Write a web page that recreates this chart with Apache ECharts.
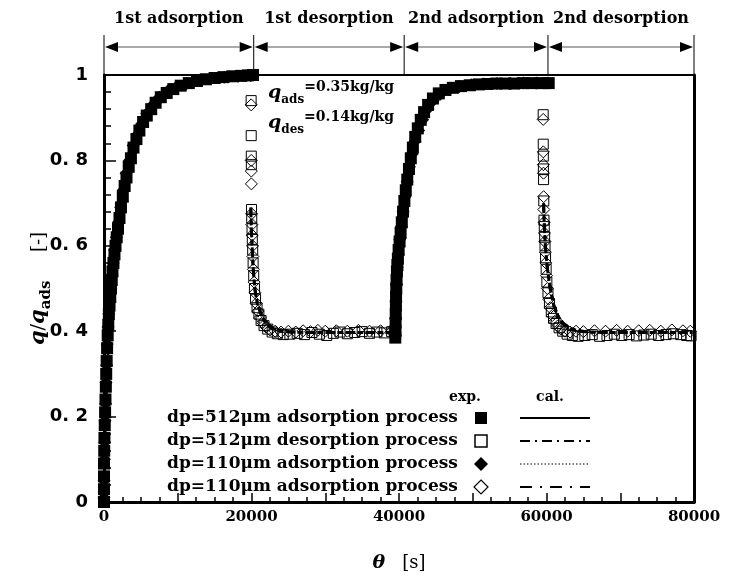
<!DOCTYPE html>
<html>
<head>
<meta charset="utf-8">
<script src="https://cdn.jsdelivr.net/npm/echarts@6/dist/echarts.min.js"></script>
<style>
  html, body { margin: 0; padding: 0; background: #fff; }
  #chart { width: 730px; height: 578px; }
</style>
</head>
<body>
<div id="chart"></div>
<script>
// Process phases along the time axis
const phaseNames = ['1st adsorption', '1st desorption', '2nd adsorption', '2nd desorption'];
const phaseBounds = [0, 20300, 40700, 60200, 80000];

// Axis ticks
const xTickLabels = [0, 20000, 40000, 60000, 80000];
const yTickLabels = [0, 0.2, 0.4, 0.6, 0.8, 1];

// Legend rows
const legendNames = [
  'dp=512\u03bcm adsorption process',
  'dp=512\u03bcm desorption process',
  'dp=110\u03bcm adsorption process',
  'dp=110\u03bcm adsorption process'
];

// Experimental data [time s, q/q_ads]
// dp=512 um, adsorption (filled squares)
const exp512Ads = [
  [0,0],[0,0.03],[0,0.06],[0,0.09],[30,0.12],[60,0.15],[100,0.18],[150,0.21],[200,0.24],[250,0.27],[300,0.3],
  [360,0.33],[420,0.36],[500,0.39],[580,0.415],[660,0.44],[750,0.46],[850,0.48],[950,0.5],[1050,0.52],[1150,0.54],
  [1280,0.56],[1420,0.58],[1560,0.6],[1720,0.62],[1900,0.64],[2100,0.665],[2300,0.69],[2550,0.715],[2800,0.74],[3050,0.76],
  [3350,0.785],[3650,0.805],[4000,0.83],[4400,0.85],[4800,0.87],[5300,0.89],[5800,0.905],[6400,0.92],[7000,0.935],[7700,0.948],
  [8500,0.958],[9400,0.967],[10400,0.975],[11500,0.981],[12600,0.986],[13800,0.99],[15000,0.993],[16200,0.995],[17400,0.997],
  [18600,0.998],[19500,0.999],[20200,1.0],
  [39500,0.385],[39520,0.4],[39540,0.42],[39560,0.44],[39580,0.46],[39600,0.48],[39630,0.5],[39670,0.52],[39720,0.54],
  [39780,0.555],[39850,0.57],[39950,0.59],[40080,0.61],[40220,0.63],[40380,0.655],[40550,0.68],[40730,0.705],[40920,0.73],
  [41120,0.755],[41350,0.78],[41600,0.805],[41880,0.83],[42200,0.855],[42550,0.875],[42950,0.895],[43400,0.913],[43950,0.93],
  [44600,0.945],[45400,0.957],[46300,0.965],[47300,0.97],[48400,0.974],[49600,0.976],[50800,0.978],[52000,0.979],[53200,0.98],
  [54400,0.98],[55600,0.98],[56800,0.981],[58000,0.981],[59200,0.981],[60300,0.981]
];
// dp=512 um, desorption (open squares)
const exp512Des = [
  [19950,0.94],[19960,0.858],[19970,0.81],[19980,0.79],[20000,0.685],[20030,0.665],[20070,0.64],[20110,0.615],[20160,0.59],
  [20220,0.56],[20300,0.53],[20400,0.5],[20550,0.475],[20750,0.455],[21000,0.44],[21300,0.425],[21700,0.413],[22200,0.405],
  [22800,0.398],[23500,0.394],[24300,0.392],[25200,0.393],[26200,0.395],[27200,0.392],[28200,0.397],[29200,0.393],[30200,0.39],
  [31100,0.395],[32000,0.398],[33000,0.394],[34000,0.397],[35000,0.399],[36000,0.395],[37000,0.398],[38000,0.396],[39000,0.399],
  [59550,0.907],[59560,0.838],[59570,0.81],[59580,0.78],[59600,0.755],[59630,0.705],[59660,0.66],[59700,0.645],[59750,0.62],
  [59800,0.6],[59870,0.572],[59950,0.545],[60050,0.515],[60200,0.49],[60400,0.465],[60650,0.445],[60950,0.43],[61300,0.418],
  [61700,0.408],[62200,0.4],[62800,0.393],[63500,0.39],[64300,0.388],[65200,0.39],[66200,0.392],[67200,0.388],[68200,0.39],
  [69200,0.393],[70200,0.39],[71200,0.392],[72200,0.389],[73200,0.391],[74200,0.393],[75200,0.39],[76200,0.392],[77200,0.394],
  [78200,0.392],[79000,0.39],[79600,0.389]
];
// dp=110 um, adsorption (filled diamonds)
const exp110Ads = [
  [0,0.01],[20,0.05],[50,0.1],[90,0.14],[140,0.19],[200,0.23],[270,0.28],[350,0.32],[440,0.37],[540,0.41],[650,0.44],
  [780,0.47],[920,0.5],[1080,0.53],[1250,0.56],[1450,0.59],[1680,0.62],[1950,0.655],[2250,0.69],[2600,0.73],[3000,0.77],
  [3450,0.8],[3950,0.835],[4500,0.86],[5100,0.885],[5800,0.91],[6600,0.93],[7500,0.948],[8600,0.962],[9800,0.972],
  [11200,0.98],[12800,0.987],[14500,0.992],[16300,0.995],[18200,0.997],[19900,0.999],
  [39510,0.39],[39550,0.43],[39590,0.47],[39650,0.51],[39750,0.55],[39900,0.58],[40100,0.615],[40320,0.645],[40560,0.68],
  [40820,0.715],[41100,0.75],[41420,0.785],[41780,0.815],[42180,0.845],[42650,0.87],[43200,0.895],[43850,0.92],[44650,0.94],
  [45600,0.955],[46800,0.966],[48200,0.973],[49800,0.977],[51500,0.979],[53300,0.98],[55100,0.98],[56900,0.981],[58700,0.981],
  [60200,0.981]
];
// dp=110 um, desorption (open diamonds)
const exp110Des = [
  [19955,0.93],[19965,0.8],[19975,0.775],[19985,0.745],[20010,0.675],[20050,0.65],[20090,0.625],[20140,0.6],[20190,0.575],
  [20260,0.545],[20350,0.515],[20480,0.49],[20650,0.465],[20870,0.447],[21150,0.432],[21500,0.42],[21950,0.41],[22500,0.403],
  [23200,0.4],[24000,0.398],[25000,0.4],[26000,0.398],[27000,0.401],[28000,0.399],[29000,0.402],[30000,0.4],[31500,0.401],
  [33000,0.4],[34500,0.402],[36000,0.4],[37500,0.401],[39000,0.4],
  [59555,0.896],[59565,0.82],[59575,0.79],[59590,0.77],[59610,0.715],[59640,0.685],[59680,0.655],[59720,0.63],[59780,0.61],
  [59840,0.585],[59910,0.56],[60000,0.53],[60120,0.5],[60300,0.475],[60520,0.455],[60800,0.437],[61120,0.423],[61500,0.412],
  [61950,0.405],[62500,0.4],[63200,0.398],[64000,0.4],[65000,0.399],[66500,0.401],[68000,0.4],[69500,0.402],[71000,0.4],
  [72500,0.401],[74000,0.402],[75500,0.4],[77000,0.403],[78500,0.401],[79500,0.4]
];

// Calculated curves [time s, q/q_ads], one array per phase
const cal512Ads1 = [
  [0,0],[100,0.1],[200,0.18],[300,0.24],[400,0.29],[550,0.35],[700,0.4],[900,0.46],[1100,0.51],[1350,0.56],[1650,0.61],
  [2000,0.66],[2400,0.705],[2900,0.75],[3500,0.795],[4200,0.835],[5000,0.87],[6000,0.9],[7200,0.928],[8600,0.95],
  [10200,0.966],[12000,0.978],[14000,0.986],[16000,0.992],[18000,0.996],[20000,0.999]
];
const cal512Ads2 = [
  [39550,0.397],[39600,0.45],[39700,0.5],[39850,0.54],[40050,0.58],[40300,0.625],[40600,0.67],[40950,0.715],[41350,0.76],
  [41800,0.8],[42300,0.84],[42900,0.875],[43600,0.905],[44400,0.93],[45400,0.95],[46600,0.963],[48000,0.971],[49600,0.976],
  [51500,0.979],[54000,0.98],[57000,0.98],[60000,0.98]
];
const cal512Des1 = [
  [19900,0.69],[19980,0.64],[20080,0.6],[20220,0.55],[20450,0.5],[20800,0.465],[21300,0.44],[21950,0.418],[22800,0.406],
  [24000,0.4],[25500,0.398],[27500,0.397],[30000,0.397],[32500,0.397],[35000,0.397],[37500,0.397],[39550,0.397]
];
const cal512Des2 = [
  [59600,0.7],[59700,0.65],[59850,0.6],[60100,0.55],[60500,0.5],[61000,0.46],[61600,0.435],[62300,0.418],[63200,0.407],
  [64300,0.401],[65600,0.398],[67500,0.397],[70000,0.397],[72500,0.397],[75000,0.397],[77500,0.397],[79800,0.397]
];
const cal110Ads1 = [
  [0,0],[100,0.11],[200,0.19],[300,0.25],[400,0.3],[550,0.36],[700,0.41],[900,0.47],[1100,0.52],[1350,0.57],[1650,0.62],
  [2000,0.67],[2400,0.71],[2900,0.755],[3500,0.8],[4200,0.84],[5000,0.874],[6000,0.903],[7200,0.93],[8600,0.951],
  [10200,0.967],[12000,0.979],[14000,0.987],[16000,0.993],[18000,0.996],[20000,0.999]
];
const cal110Ads2 = [
  [39550,0.397],[39600,0.46],[39700,0.51],[39850,0.55],[40050,0.59],[40300,0.635],[40600,0.68],[40950,0.722],[41350,0.765],
  [41800,0.805],[42300,0.843],[42900,0.878],[43600,0.907],[44400,0.931],[45400,0.951],[46600,0.964],[48000,0.972],
  [49600,0.976],[51500,0.979],[54000,0.98],[57000,0.98],[60000,0.98]
];
const cal110Des1 = [
  [19900,0.69],[19980,0.64],[20080,0.598],[20220,0.548],[20450,0.499],[20800,0.464],[21300,0.439],[21950,0.418],[22800,0.406],
  [24000,0.4],[25500,0.398],[27500,0.397],[30000,0.397],[32500,0.397],[35000,0.397],[37500,0.397],[39550,0.397]
];
const cal110Des2 = [
  [59600,0.7],[59700,0.649],[59850,0.599],[60100,0.549],[60500,0.499],[61000,0.459],[61600,0.434],[62300,0.418],[63200,0.407],
  [64300,0.401],[65600,0.398],[67500,0.397],[70000,0.397],[72500,0.397],[75000,0.397],[77500,0.397],[79800,0.397]
];

const INK = '#000';
const SERIF = '"DejaVu Serif", "Liberation Serif", serif';
const SANS = '"DejaVu Sans", "Liberation Sans", sans-serif';

const chart = echarts.init(document.getElementById('chart'), null, { renderer: 'canvas' });

function scatter(name, data, symbol, size, filled, z) {
  return {
    name, type: 'scatter', data, symbol, symbolSize: size, clip: false, z,
    silent: true, animation: false,
    itemStyle: filled
      ? { color: INK, borderWidth: 0, opacity: 1 }
      : { color: 'rgba(0,0,0,0)', borderColor: INK, borderWidth: 1, opacity: 1 }
  };
}
function calLine(name, data, type, width, offset) {
  return {
    name, type: 'line', data, showSymbol: false, symbol: 'none', z: 5,
    silent: true, animation: false, clip: false,
    lineStyle: { color: INK, width, type, dashOffset: offset || 0, opacity: 1 }
  };
}

const grid = { left: 104, top: 75, width: 590, height: 434 };

chart.setOption({
  backgroundColor: '#fff',
  animation: false,
  grid: Object.assign({ show: true, borderColor: INK, borderWidth: 2, backgroundColor: 'transparent' }, grid),
  xAxis: [{
    type: 'value', min: 0, max: 80000, interval: 10000,
    axisLine: { show: true, onZero: false, lineStyle: { color: INK, width: 3 } },
    axisTick: { show: true, inside: true, length: 9, lineStyle: { color: INK, width: 1.5 } },
    minorTick: { show: true, splitNumber: 4, length: 5, lineStyle: { color: INK, width: 1.5 } },
    splitLine: { show: false },
    axisLabel: {
      margin: 8, color: INK, fontFamily: SERIF, fontWeight: 'bold', fontSize: 15,
      formatter: v => (xTickLabels.indexOf(v) >= 0 ? String(v) : '')
    },
    name: '{t|\u03b8}{s|   [s]}', nameLocation: 'middle', nameGap: 52, nameMoveOverlap: false,
    nameTextStyle: {
      rich: {
        t: { fontFamily: SERIF, fontStyle: 'italic', fontWeight: 'bold', fontSize: 19, color: INK },
        s: { fontFamily: SERIF, fontSize: 18, color: INK }
      }
    }
  }],
  yAxis: [{
    type: 'value', min: 0, max: 1, interval: 0.2,
    axisLine: { show: true, onZero: false, lineStyle: { color: INK, width: 3 } },
    axisTick: { show: true, inside: true, length: 12, lineStyle: { color: INK, width: 1.5 } },
    minorTick: { show: true, splitNumber: 5, length: 7, lineStyle: { color: INK, width: 1.5 } },
    splitLine: { show: false },
    axisLabel: {
      margin: 16, color: INK, fontFamily: SANS, fontWeight: 'bold', fontSize: 18,
      formatter: v => {
        const hit = yTickLabels.find(t => Math.abs(t - v) < 1e-9);
        if (hit === undefined) return '';
        return (hit === 0 || hit === 1) ? String(hit) : hit.toFixed(1).replace('.', '. ');
      }
    },
    name: '{q|q}{sl|/}{q|q}{sub|ads}{b|     [-]}', nameLocation: 'middle', nameGap: 50, nameRotate: 90,
    nameMoveOverlap: false,
    nameTextStyle: {
      rich: {
        q: { fontFamily: SERIF, fontStyle: 'italic', fontWeight: 'bold', fontSize: 21, color: INK, lineHeight: 30, verticalAlign: 'middle' },
        sl: { fontFamily: SERIF, fontSize: 19, color: INK, lineHeight: 30, verticalAlign: 'middle' },
        sub: { fontFamily: SERIF, fontWeight: 'bold', fontSize: 15, color: INK, lineHeight: 30, verticalAlign: 'bottom' },
        b: { fontFamily: SERIF, fontSize: 18, color: INK, lineHeight: 30, verticalAlign: 'middle' }
      }
    }
  }, {
    type: 'value', min: 0, max: 1, position: 'right',
    axisLine: { show: true, onZero: false, lineStyle: { color: INK, width: 3 } },
    axisTick: { show: false }, axisLabel: { show: false }, splitLine: { show: false }
  }],
  series: [
    scatter('dp=512 adsorption exp', exp512Ads, 'rect', 12, true, 2),
    scatter('dp=110 adsorption exp', exp110Ads, 'diamond', 13, true, 2),
    scatter('dp=512 desorption exp', exp512Des, 'rect', 10, false, 3),
    scatter('dp=110 desorption exp', exp110Des, 'diamond', 12, false, 3),
    calLine('dp=512 adsorption cal', cal512Ads1, 'solid', 2.5),
    calLine('dp=512 adsorption cal', cal512Ads2, 'solid', 2.5),
    calLine('dp=512 desorption cal', cal512Des1, [10, 4, 2, 4], 3),
    calLine('dp=512 desorption cal', cal512Des2, [10, 4, 2, 4], 3),
    calLine('dp=110 adsorption cal', cal110Ads1, 'dotted', 2),
    calLine('dp=110 adsorption cal', cal110Ads2, 'dotted', 2),
    calLine('dp=110 desorption cal', cal110Des1, [6, 4], 3, 8),
    calLine('dp=110 desorption cal', cal110Des2, [6, 4], 3, 8)
  ]
});

// Phase brackets above the plot, placed through the x scale
function buildOverlay() {
  const g = [];
  const xs = phaseBounds.map(v => chart.convertToPixel({ xAxisIndex: 0 }, v));
  const yTop = 35, yBot = grid.top, yArrow = 47, ah = 13, aw = 5;
  xs.forEach(x => {
    g.push({ type: 'line', shape: { x1: x, y1: yTop, x2: x, y2: yBot }, style: { stroke: INK, lineWidth: 1 }, silent: true });
  });
  for (let i = 0; i < phaseNames.length; i++) {
    const a = xs[i] + 1, b = xs[i + 1] - 1;
    g.push({ type: 'line', shape: { x1: a + ah, y1: yArrow, x2: b - ah, y2: yArrow }, style: { stroke: '#555', lineWidth: 1 }, silent: true });
    g.push({ type: 'polygon', shape: { points: [[a, yArrow], [a + ah, yArrow - aw], [a + ah, yArrow + aw]] }, style: { fill: INK }, silent: true });
    g.push({ type: 'polygon', shape: { points: [[b, yArrow], [b - ah, yArrow - aw], [b - ah, yArrow + aw]] }, style: { fill: INK }, silent: true });
    g.push({
      type: 'text', x: (xs[i] + xs[i + 1]) / 2, y: 19, silent: true,
      style: { text: phaseNames[i], fill: INK, font: 'bold 16px ' + SERIF, align: 'center', verticalAlign: 'middle' }
    });
  }

  // Reference capacities
  const capRich = {
    q: { font: 'italic bold 19px ' + SERIF, fill: INK, lineHeight: 26, verticalAlign: 'middle' },
    s: { font: 'bold 12px ' + SERIF, fill: INK, lineHeight: 26, verticalAlign: 'bottom' },
    v: { font: 'bold 14px ' + SERIF, fill: INK, lineHeight: 26, verticalAlign: 'top' }
  };
  g.push({ type: 'text', x: 268, y: 93, silent: true, style: { text: '{q|q}{s|ads}{v|=0.35kg/kg}', verticalAlign: 'middle', rich: capRich } });
  g.push({ type: 'text', x: 268, y: 123, silent: true, style: { text: '{q|q}{s|des}{v|=0.14kg/kg}', verticalAlign: 'middle', rich: capRich } });

  // Legend: exp. markers and cal. line samples
  const lx = 167, mx = 481, l1 = 520, l2 = 590;
  const rows = [418, 441, 464, 487];
  g.push({ type: 'text', x: 465, y: 397, silent: true, style: { text: 'exp.', fill: INK, font: 'bold 14px ' + SERIF, align: 'center', verticalAlign: 'middle' } });
  g.push({ type: 'text', x: 550, y: 397, silent: true, style: { text: 'cal.', fill: INK, font: 'bold 14px ' + SERIF, align: 'center', verticalAlign: 'middle' } });
  const dashes = [null, [10, 5, 2, 5], [1.5, 2], [12, 8, 2, 8]];
  const widths = [2, 2, 1, 2];
  rows.forEach((y, i) => {
    g.push({ type: 'text', x: lx, y, silent: true, style: { text: legendNames[i], fill: INK, font: 'bold 17px ' + SERIF, align: 'left', verticalAlign: 'middle' } });
    if (i === 0) g.push({ type: 'rect', shape: { x: mx - 6, y: y - 6, width: 12, height: 12 }, style: { fill: INK }, silent: true });
    if (i === 1) g.push({ type: 'rect', shape: { x: mx - 6, y: y - 6, width: 12, height: 12 }, style: { fill: '#fff', stroke: INK, lineWidth: 1.5 }, silent: true });
    if (i === 2) g.push({ type: 'polygon', shape: { points: [[mx, y - 7], [mx + 7, y], [mx, y + 7], [mx - 7, y]] }, style: { fill: INK }, silent: true });
    if (i === 3) g.push({ type: 'polygon', shape: { points: [[mx, y - 7], [mx + 7, y], [mx, y + 7], [mx - 7, y]] }, style: { fill: '#fff', stroke: INK, lineWidth: 1.2 }, silent: true });
    g.push({ type: 'line', shape: { x1: l1, y1: y, x2: l2, y2: y }, style: { stroke: INK, lineWidth: widths[i], lineDash: dashes[i] }, silent: true });
  });
  chart.setOption({ graphic: g });
}
buildOverlay();
</script>
</body>
</html>
